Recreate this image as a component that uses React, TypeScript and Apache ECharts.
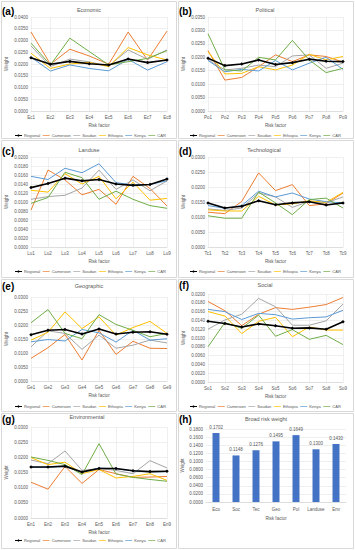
import React, { useEffect, useRef } from "react";
import * as echarts from "echarts";

const countries = ["Regional", "Cameroon", "Soudan", "Ethiopia", "Kenya", "CAR"];
const countryColors = ["#000000", "#ED7D31", "#A5A5A5", "#FFC000", "#5B9BD5", "#70AD47"];

const ecoCats = ["Ec1", "Ec2", "Ec3", "Ec4", "Ec5", "Ec6", "Ec7", "Ec8"];
const economic: Record<string, number[]> = {
  Regional: [0.0227, 0.0199, 0.0211, 0.0201, 0.0196, 0.0221, 0.0206, 0.0217],
  Cameroon: [0.0336, 0.0199, 0.0263, 0.0234, 0.0199, 0.0336, 0.0217, 0.034],
  Soudan: [0.0277, 0.0189, 0.0221, 0.0209, 0.0191, 0.026, 0.022, 0.026],
  Ethiopia: [0.0246, 0.0181, 0.02, 0.0207, 0.0189, 0.027, 0.0239, 0.0217],
  Kenya: [0.0229, 0.017, 0.0196, 0.0181, 0.0171, 0.022, 0.0174, 0.021],
  CAR: [0.0289, 0.0196, 0.031, 0.0253, 0.0196, 0.021, 0.0224, 0.0257],
};

const polCats = ["Po1", "Po2", "Po3", "Po4", "Po5", "Po6", "Po7", "Po8", "Po9"];
const political: Record<string, number[]> = {
  Regional: [0.0196, 0.0169, 0.0175, 0.019, 0.0173, 0.018, 0.0193, 0.0185, 0.0184],
  Cameroon: [0.0225, 0.0115, 0.0125, 0.0165, 0.0209, 0.0184, 0.0209, 0.0203, 0.0182],
  Soudan: [0.019, 0.0153, 0.0159, 0.0171, 0.0165, 0.0205, 0.0209, 0.0159, 0.0178],
  Ethiopia: [0.0221, 0.0138, 0.014, 0.0165, 0.0153, 0.0171, 0.0211, 0.019, 0.0203],
  Kenya: [0.0188, 0.0146, 0.0155, 0.0149, 0.0188, 0.0153, 0.0178, 0.02, 0.0155],
  CAR: [0.0288, 0.0153, 0.0149, 0.02, 0.019, 0.0263, 0.019, 0.0143, 0.0159],
};

const luCats = ["Lu1", "Lu2", "Lu3", "Lu4", "Lu5", "Lu6", "Lu7", "Lu8", "Lu9"];
const landuse: Record<string, number[]> = {
  Regional: [0.0132, 0.0141, 0.0153, 0.0147, 0.015, 0.014, 0.0137, 0.0139, 0.0151],
  Cameroon: [0.0082, 0.0171, 0.0149, 0.0116, 0.0128, 0.0095, 0.0157, 0.013, 0.0091],
  Soudan: [0.0106, 0.0112, 0.0115, 0.0131, 0.0171, 0.0128, 0.0149, 0.0125, 0.0147],
  Ethiopia: [0.0126, 0.0122, 0.0163, 0.014, 0.0157, 0.0107, 0.0144, 0.0104, 0.0108],
  Kenya: [0.0157, 0.015, 0.0175, 0.0165, 0.0185, 0.0143, 0.0138, 0.0139, 0.0147],
  CAR: [0.0097, 0.011, 0.0166, 0.0154, 0.0106, 0.0124, 0.0106, 0.0092, 0.0086],
};

const tcCats = ["Tc1", "Tc2", "Tc3", "Tc4", "Tc5", "Tc6", "Tc7", "Tc8", "Tc9"];
const technological: Record<string, number[]> = {
  Regional: [0.0147, 0.013, 0.0136, 0.0154, 0.0141, 0.0147, 0.0151, 0.014, 0.0147],
  Cameroon: [0.0116, 0.0111, 0.0152, 0.0247, 0.0188, 0.0208, 0.0138, 0.0144, 0.018],
  Soudan: [0.0127, 0.0122, 0.013, 0.018, 0.0167, 0.0132, 0.0152, 0.0147, 0.0167],
  Ethiopia: [0.0124, 0.012, 0.012, 0.0169, 0.014, 0.0144, 0.0154, 0.0149, 0.0182],
  Kenya: [0.0138, 0.0129, 0.0138, 0.0186, 0.0167, 0.018, 0.016, 0.0151, 0.0147],
  CAR: [0.0104, 0.0096, 0.0096, 0.0183, 0.0147, 0.0108, 0.0158, 0.0163, 0.013],
};

const geCats = ["Ge1", "Ge2", "Ge3", "Ge4", "Ge5", "Ge6", "Ge7", "Ge8", "Ge9"];
const geographic: Record<string, number[]> = {
  Regional: [0.0165, 0.0181, 0.0184, 0.0168, 0.0186, 0.0168, 0.0174, 0.0176, 0.0167],
  Cameroon: [0.0081, 0.0119, 0.0166, 0.0075, 0.0181, 0.0095, 0.0142, 0.0117, 0.0116],
  Soudan: [0.0122, 0.0179, 0.017, 0.0113, 0.0164, 0.0117, 0.0128, 0.0146, 0.0136],
  Ethiopia: [0.0146, 0.0174, 0.0247, 0.0187, 0.0229, 0.0164, 0.0191, 0.0213, 0.017],
  Kenya: [0.014, 0.0148, 0.0143, 0.0184, 0.0172, 0.0139, 0.0181, 0.0146, 0.0151],
  CAR: [0.0208, 0.0255, 0.017, 0.0151, 0.0237, 0.0202, 0.0181, 0.0158, 0.017],
};

const soCats = ["So1", "So2", "So3", "So4", "So5", "So6", "So7", "So8", "So9"];
const social: Record<string, number[]> = {
  Regional: [0.0138, 0.0133, 0.0125, 0.0132, 0.0128, 0.0122, 0.0123, 0.012, 0.0137],
  Cameroon: [0.0183, 0.0162, 0.0128, 0.0154, 0.0169, 0.0165, 0.017, 0.0176, 0.0192],
  Soudan: [0.012, 0.0141, 0.0154, 0.019, 0.0171, 0.0129, 0.0129, 0.0139, 0.0177],
  Ethiopia: [0.016, 0.015, 0.011, 0.0138, 0.0147, 0.0103, 0.0125, 0.0118, 0.0118],
  Kenya: [0.0165, 0.016, 0.0142, 0.0156, 0.0153, 0.0143, 0.0146, 0.0148, 0.0163],
  CAR: [0.008, 0.0135, 0.0122, 0.0152, 0.0104, 0.0119, 0.0097, 0.0106, 0.0085],
};

const enCats = ["En1", "En2", "En3", "En4", "En5", "En6", "En7", "En8", "En9"];
const environmental: Record<string, number[]> = {
  Regional: [0.0168, 0.0168, 0.0171, 0.0152, 0.0163, 0.0163, 0.0156, 0.0153, 0.0154],
  Cameroon: [0.0118, 0.0095, 0.017, 0.0114, 0.016, 0.0146, 0.0134, 0.0135, 0.0137],
  Soudan: [0.0191, 0.0179, 0.0221, 0.0157, 0.0163, 0.0157, 0.0146, 0.0189, 0.0165],
  Ethiopia: [0.0199, 0.0176, 0.0184, 0.0146, 0.016, 0.0132, 0.0137, 0.0146, 0.0124],
  Kenya: [0.0167, 0.0167, 0.017, 0.015, 0.0165, 0.0162, 0.0155, 0.0152, 0.0153],
  CAR: [0.0201, 0.019, 0.0176, 0.0143, 0.0245, 0.0145, 0.0134, 0.0127, 0.0121],
};

const broadCats = ["Eco", "Soc", "Tec", "Geo", "Pol", "Landuse", "Env"];
const broadWeights = [0.1702, 0.1148, 0.1276, 0.1495, 0.1649, 0.13, 0.143];

const FONT = "'Liberation Sans', Arial, sans-serif";
const GRAY_TEXT = "#595959";
const GRID_LINE = "#d9d9d9";

const LINE_ICON = "path://M0,1.1 L8,1.1 L8,1.9 L0,1.9 Z";
const REGIONAL_ICON = "path://M0,1.05 L2.9,1.05 L4,0 L5.1,1.05 L8,1.05 L8,1.95 L5.1,1.95 L4,3 L2.9,1.95 L0,1.95 Z";

type Panel = {
  label: string;
  title: string;
  titleX: number;
  titleY: number;
  labelX: number;
  labelY: number;
  grid: { left: number; top: number; width: number; height: number };
  cats: string[];
  data?: Record<string, number[]>;
  max: number;
  interval: number;
  legendX?: number;
  legendY?: number;
};

const panels: Panel[] = [
  { label: "(a)", title: "Economic", titleX: 89, titleY: 7, labelX: 2, labelY: 6, grid: { left: 31, top: 17, width: 136, height: 94 }, cats: ecoCats, data: economic, max: 0.04, interval: 0.005, legendX: 15, legendY: 133.5 },
  { label: "(b)", title: "Political", titleX: 265, titleY: 7, labelX: 179, labelY: 6, grid: { left: 208, top: 17, width: 135, height: 94 }, cats: polCats, data: political, max: 0.035, interval: 0.005, legendX: 190, legendY: 133.5 },
  { label: "(c)", title: "Landuse", titleX: 89, titleY: 147, labelX: 2, labelY: 146, grid: { left: 31, top: 157, width: 136, height: 90 }, cats: luCats, data: landuse, max: 0.02, interval: 0.002, legendX: 15, legendY: 269.5 },
  { label: "(d)", title: "Technological", titleX: 264, titleY: 147, labelX: 179, labelY: 146, grid: { left: 208, top: 157, width: 135, height: 90 }, cats: tcCats, data: technological, max: 0.03, interval: 0.005, legendX: 190, legendY: 269.5 },
  { label: "(e)", title: "Geographic", titleX: 89, titleY: 283, labelX: 2, labelY: 281, grid: { left: 31, top: 297, width: 136, height: 84 }, cats: geCats, data: geographic, max: 0.03, interval: 0.005, legendX: 15, legendY: 404.5 },
  { label: "(f)", title: "Social", titleX: 265, titleY: 282, labelX: 179, labelY: 280, grid: { left: 208, top: 294, width: 135, height: 88 }, cats: soCats, data: social, max: 0.02, interval: 0.002, legendX: 190, legendY: 404.5 },
  { label: "(g)", title: "Environmental", titleX: 87, titleY: 414, labelX: 2, labelY: 414, grid: { left: 31, top: 427, width: 136, height: 91 }, cats: enCats, data: environmental, max: 0.03, interval: 0.005, legendX: 15, legendY: 538.5 },
  { label: "(h)", title: "Broad risk weight", titleX: 266, titleY: 416, labelX: 179, labelY: 414, grid: { left: 206, top: 429, width: 140, height: 73 }, cats: broadCats, max: 0.18, interval: 0.02 },
];

const borders = [
  { x: 1, y: 1, w: 175, h: 137 },
  { x: 178, y: 1, w: 175, h: 137 },
  { x: 1, y: 140, w: 175, h: 137 },
  { x: 178, y: 140, w: 175, h: 137 },
  { x: 1, y: 279, w: 175, h: 132 },
  { x: 178, y: 279, w: 175, h: 132 },
  { x: 1, y: 413, w: 175, h: 135 },
  { x: 178, y: 413, w: 175, h: 135 },
];

function buildOption() {
  const grid: any[] = [];
  const xAxis: any[] = [];
  const yAxis: any[] = [];
  const series: any[] = [];
  const title: any[] = [];
  const legend: any[] = [];

  panels.forEach((p, i) => {
    const isBar = !p.data;
    grid.push({ ...p.grid, containLabel: false });
    xAxis.push({
      type: "category",
      gridIndex: i,
      data: p.cats,
      boundaryGap: isBar,
      name: "Risk factor",
      nameLocation: "middle",
      nameGap: isBar ? 14 : 12,
      nameTextStyle: { fontSize: 4.5, color: GRAY_TEXT, fontFamily: FONT },
      axisLine: { show: true, lineStyle: { color: GRID_LINE, width: 0.8 } },
      axisTick: { show: false },
      axisLabel: { fontSize: 4.5, color: GRAY_TEXT, margin: isBar ? 5 : 4, fontFamily: FONT, interval: 0 },
      splitLine: { show: !isBar, lineStyle: { color: "#e4e4e4", width: 0.6 } },
    });
    yAxis.push({
      type: "value",
      gridIndex: i,
      min: 0,
      max: p.max,
      interval: p.interval,
      name: "Weight",
      nameLocation: "middle",
      nameRotate: 90,
      nameGap: isBar ? 19 : 22,
      nameTextStyle: { fontSize: 4.5, color: GRAY_TEXT, fontFamily: FONT },
      axisLine: { show: false },
      axisTick: { show: false },
      axisLabel: { fontSize: 4.5, color: GRAY_TEXT, margin: 3, fontFamily: FONT, formatter: (v: number) => v.toFixed(4) },
      splitLine: { show: true, lineStyle: { color: "#e4e4e4", width: 0.6 } },
    });
    title.push({
      text: p.title,
      left: p.titleX,
      top: p.titleY,
      textAlign: "center",
      padding: 0,
      textStyle: { fontSize: 5.5, fontWeight: "normal", color: GRAY_TEXT, fontFamily: FONT },
    });
    title.push({
      text: p.label,
      left: p.labelX,
      top: p.labelY,
      padding: 0,
      textStyle: { fontSize: 10, fontWeight: "bold", color: "#000", fontFamily: FONT },
    });

    if (p.data) {
      countries.forEach((c, k) => {
        const isReg = c === "Regional";
        series.push({
          type: "line",
          name: c,
          xAxisIndex: i,
          yAxisIndex: i,
          data: p.data![c],
          color: countryColors[k],
          lineStyle: { width: isReg ? 1.6 : 1, color: countryColors[k] },
          symbol: isReg ? "diamond" : "none",
          symbolSize: isReg ? 3.5 : 0,
          itemStyle: { color: countryColors[k] },
          z: isReg ? 10 : 2,
          silent: true,
        });
      });
      legend.push({
        data: countries.map((c) => ({ name: c, icon: c === "Regional" ? REGIONAL_ICON : LINE_ICON })),
        left: p.legendX,
        top: p.legendY,
        width: 220,
        orient: "horizontal",
        padding: 0,
        itemWidth: 7,
        itemHeight: 3,
        itemGap: 2.5,
        selectedMode: false,
        textStyle: { fontSize: 4.1, color: GRAY_TEXT, fontFamily: FONT, padding: [0, 0, 0, -3] },
      });
    } else {
      series.push({
        type: "bar",
        name: "Broad risk weight",
        xAxisIndex: i,
        yAxisIndex: i,
        data: broadWeights,
        barWidth: 7,
        itemStyle: { color: "#4472C4" },
        label: {
          show: true,
          position: "top",
          distance: 3,
          fontSize: 4.5,
          color: GRAY_TEXT,
          fontFamily: FONT,
          formatter: (d: any) => Number(d.value).toFixed(4),
        },
        silent: true,
      });
    }
  });

  const graphic = borders.map((b) => ({
    type: "rect",
    shape: { x: b.x + 0.5, y: b.y + 0.5, width: b.w, height: b.h },
    style: { fill: "none", stroke: "#d9d9d9", lineWidth: 1 },
    silent: true,
    z: -10,
  }));

  return {
    animation: false,
    backgroundColor: "#ffffff",
    textStyle: { fontFamily: FONT },
    grid,
    xAxis,
    yAxis,
    series,
    title,
    legend,
    graphic,
  };
}

export default function App() {
  const ref = useRef<HTMLDivElement>(null);
  useEffect(() => {
    if (!ref.current) return;
    const chart = echarts.init(ref.current, undefined, { renderer: "svg" });
    chart.setOption(buildOption() as any);
    return () => chart.dispose();
  }, []);
  return (
    <div
      ref={ref}
      style={{ position: "absolute", left: 0, top: 0, width: 355, height: 550, background: "#fff" }}
    />
  );
}
